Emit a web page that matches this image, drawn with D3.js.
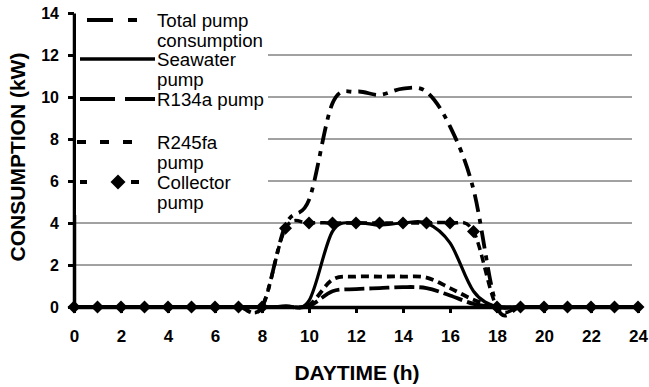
<!DOCTYPE html>
<html>
<head>
<meta charset="utf-8">
<script src="https://cdn.jsdelivr.net/npm/d3@7"></script>
<style>
  html, body { margin: 0; padding: 0; background: #fff; }
  svg { display: block; }
  text { font-family: "Liberation Sans", Arial, sans-serif; fill: #000; }
</style>
</head>
<body>
<svg id="chart" width="649" height="387"></svg>
<script>
// Hourly pump power consumption over one day (kW)
const hours = d3.range(0, 25);
const totalPump   = [0,0,0,0,0,0,0,0,0,3.9,5.1,9.7,10.25,10.1,10.4,10.25,8.6,5.6,0,0,0,0,0,0,0];
const seawater    = [0,0,0,0,0,0,0,0,0,0.05,0.3,3.6,4.0,3.9,4.0,4.0,3.05,0.75,0,0,0,0,0,0,0];
const r134a       = [0,0,0,0,0,0,0,0,0,0,0.05,0.75,0.85,0.9,0.95,0.9,0.55,0.15,0,0,0,0,0,0,0];
const r245fa      = [0,0,0,0,0,0,0,0,0,0,0.1,1.3,1.45,1.45,1.45,1.4,0.9,0.35,0,0,0,0,0,0,0];
const collector   = [0,0,0,0,0,0,0,0,0,3.75,4.0,4.0,4.0,4.0,4.0,4.0,4.0,3.6,0,0,0,0,0,0,0];

const xTicks = d3.range(0, 25, 2);
const yTicks = d3.range(0, 15, 2);
const gridValues = [2, 4, 6, 8, 10, 12];

const legendLabels = [
  ["Total pump", "consumption"],
  ["Seawater", "pump"],
  ["R134a pump"],
  ["R245fa", "pump"],
  ["Collector", "pump"]
];

const svg = d3.select("#chart");
const x = d3.scaleLinear().domain([0, 24]).range([74, 638]);
const y = d3.scaleLinear().domain([0, 14]).range([307, 13]);

// horizontal gridlines
svg.append("g").selectAll("line").data(gridValues).join("line")
  .attr("x1", x(0)).attr("x2", 632)
  .attr("y1", d => y(d)).attr("y2", d => y(d))
  .attr("stroke", "#444").attr("stroke-width", 1);

// series
const line = d3.line().x((d, i) => x(hours[i])).y(d => y(d)).curve(d3.curveCardinal.tension(0));
const series = [
  { values: totalPump, dash: "18,7,5,7", width: 3.8 },
  { values: seawater,  dash: null,       width: 3.2 },
  { values: r134a,     dash: "20,5",     width: 3.8 },
  { values: r245fa,    dash: "8,5",      width: 3.8 },
  { values: collector, dash: "8,5",      width: 3.5 }
];
const gSeries = svg.append("g");
series.forEach(s => {
  gSeries.append("path")
    .attr("d", line(s.values))
    .attr("fill", "none")
    .attr("stroke", "#000")
    .attr("stroke-width", s.width)
    .attr("stroke-dasharray", s.dash);
});

const diamond = r => `M0,${-r}L${r},0L0,${r}L${-r},0Z`;
gSeries.append("g").selectAll("path").data(collector).join("path")
  .attr("transform", (d, i) => `translate(${x(hours[i])},${y(d)})`)
  .attr("d", diamond(6.5))
  .attr("fill", "#000");

// axes
const xAxis = svg.append("g")
  .attr("transform", `translate(0,${y(0)})`)
  .call(d3.axisBottom(x).tickValues(xTicks).tickSize(6).tickSizeOuter(0).tickPadding(17));
const yAxis = svg.append("g")
  .attr("transform", `translate(${x(0)},0)`)
  .call(d3.axisLeft(y).tickValues(yTicks).tickSize(6).tickSizeOuter(0).tickPadding(9));

[xAxis, yAxis].forEach(g => {
  g.select(".domain").attr("stroke", "#000").attr("stroke-width", 3.5);
  g.selectAll(".tick line").attr("stroke", "#000").attr("stroke-width", 3);
  g.selectAll(".tick text")
    .attr("fill", "#000")
    .style("font-family", "'Liberation Sans', Arial, sans-serif")
    .style("font-size", "17px")
    .style("font-weight", "bold");
});
yAxis.selectAll(".tick text").style("font-size", "16px");

// axis titles
svg.append("text")
  .attr("x", 357).attr("y", 380)
  .attr("text-anchor", "middle")
  .style("font-size", "21px").style("font-weight", "bold")
  .text("DAYTIME (h)");
svg.append("text")
  .attr("transform", "translate(25,157) rotate(-90)")
  .attr("text-anchor", "middle")
  .style("font-size", "21px").style("font-weight", "bold")
  .text("CONSUMPTION (kW)");

// legend
const legend = svg.append("g");
legend.append("rect")
  .attr("x", x(0) + 2).attr("y", 12).attr("width", 192).attr("height", 203)
  .attr("fill", "#fff");

const rowY = [20, 59, 99, 142, 182];
const legendStyles = [
  { x1: 87, x2: 157, dash: "26,15,9,30", width: 4 },
  { x1: 80, x2: 155, dash: null,         width: 3.5 },
  { x1: 80, x2: 155, dash: "35,10",      width: 4 },
  { x1: 77, x2: 136, dash: "9,14",       width: 4 },
  { x1: 80, x2: 139, dash: "7,44,8",     width: 4 }
];
legendLabels.forEach((lines, i) => {
  const st = legendStyles[i];
  legend.append("line")
    .attr("x1", st.x1).attr("x2", st.x2)
    .attr("y1", rowY[i]).attr("y2", rowY[i])
    .attr("stroke", "#000").attr("stroke-width", st.width)
    .attr("stroke-dasharray", st.dash);
  if (i === 4) {
    legend.append("path")
      .attr("transform", `translate(118,${rowY[i]})`)
      .attr("d", diamond(7.5)).attr("fill", "#000");
  }
  lines.forEach((t, j) => {
    legend.append("text")
      .attr("x", 157).attr("y", rowY[i] + 7 + j * 20)
      .style("font-size", "18.7px")
      .text(t);
  });
});
</script>
</body>
</html>
